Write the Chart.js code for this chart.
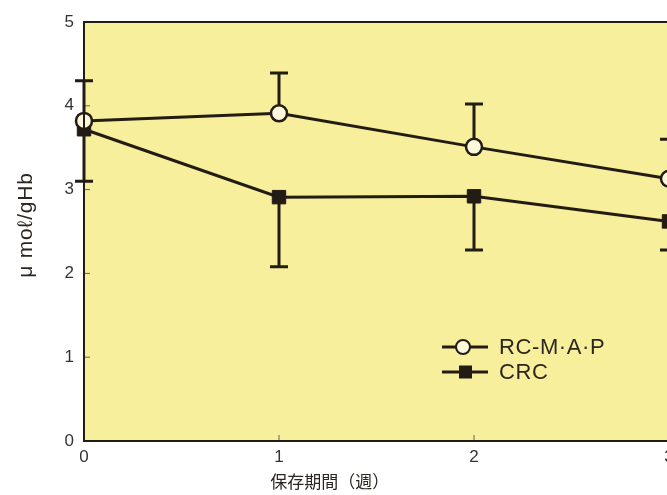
<!DOCTYPE html>
<html>
<head>
<meta charset="utf-8">
<script src="https://cdn.jsdelivr.net/npm/chart.js@4.4.1/dist/chart.umd.min.js"></script>
<style>
  html, body { margin: 0; padding: 0; background: #fff; overflow: hidden; }
  #wrap { width: 667px; height: 495px; overflow: hidden; }
  #wrap div { width: 720px; height: 495px; }
</style>
</head>
<body>
<div id="wrap"><div><canvas id="chart" width="720" height="495"></canvas></div></div>
<script>
// 데이터
const weeks = [0, 1, 2, 3];
const rcValues = [3.82, 3.91, 3.51, 3.13];    // RC-M·A·P
const rcUpper = [4.30, 4.39, 4.02, 3.60];     // 오차막대 위쪽 끝
const crcValues = [3.72, 2.91, 2.92, 2.62];   // CRC
const crcLower = [3.10, 2.08, 2.28, 2.28];    // 오차막대 아래쪽 끝
const yTicks = [0, 1, 2, 3, 4, 5];

const ink = "#231c15";
const font = "'Liberation Sans', Arial, sans-serif";

function toPoints(vals) {
  return weeks.map((w, i) => ({ x: w, y: vals[i] }));
}

const framePlugin = {
  id: "frame",
  beforeDraw(chart) {
    const { ctx, chartArea: a } = chart;
    ctx.save();
    ctx.fillStyle = "#f7ef9b"; // 노란 바탕
    ctx.fillRect(a.left, a.top, a.right - a.left, a.bottom - a.top);
    ctx.restore();
  },
  beforeDatasetsDraw(chart) {
    const { ctx, chartArea: a, scales } = chart;
    const x = scales.x, y = scales.y;
    ctx.save();
    // 안쪽 눈금
    ctx.strokeStyle = "#6b6050";
    ctx.lineWidth = 1;
    yTicks.forEach(v => {
      const py = y.getPixelForValue(v);
      ctx.beginPath(); ctx.moveTo(a.left, py); ctx.lineTo(a.left + 6, py); ctx.stroke();
    });
    weeks.forEach(v => {
      const px = x.getPixelForValue(v);
      ctx.beginPath(); ctx.moveTo(px, a.bottom); ctx.lineTo(px, a.bottom - 6); ctx.stroke();
    });
    // 오차막대
    ctx.strokeStyle = ink;
    ctx.lineWidth = 3;
    const bar = (xv, y0, y1) => {
      const px = x.getPixelForValue(xv);
      const p0 = y.getPixelForValue(y0), p1 = y.getPixelForValue(y1);
      ctx.beginPath();
      ctx.moveTo(px, p0); ctx.lineTo(px, p1);
      ctx.moveTo(px - 9, p1); ctx.lineTo(px + 9, p1);
      ctx.stroke();
    };
    weeks.forEach((w, i) => {
      bar(w, rcValues[i], rcUpper[i]);
      bar(w, crcValues[i], crcLower[i]);
    });
    ctx.restore();
  },
  afterDraw(chart) {
    const { ctx, chartArea: a, scales } = chart;
    ctx.save();
    // 테두리
    ctx.strokeStyle = ink;
    ctx.lineWidth = 2;
    ctx.beginPath();
    ctx.moveTo(a.right + 5, a.top); ctx.lineTo(a.left, a.top);
    ctx.lineTo(a.left, a.bottom); ctx.lineTo(a.right + 5, a.bottom);
    ctx.stroke();

    // 축 제목
    ctx.fillStyle = "#2b2620";
    ctx.font = "17px 'Noto Sans CJK JP', sans-serif";
    ctx.textAlign = "center";
    ctx.textBaseline = "middle";
    ctx.fillText("保存期間（週）", scales.x.getPixelForValue(1.26), 482);
    ctx.save();
    ctx.translate(26, 225);
    ctx.rotate(-Math.PI / 2);
    ctx.font = "21px " + font;
    ctx.letterSpacing = "0.8px";
    ctx.fillText("μ moℓ/gHb", 0, 0);
    ctx.restore();

    // 범례
    const lx = 442, rows = [{ label: "RC-M·A·P", y: 347, open: true }, { label: "CRC", y: 372, open: false }];
    rows.forEach(r => {
      ctx.strokeStyle = ink;
      ctx.lineWidth = 3;
      ctx.beginPath(); ctx.moveTo(lx, r.y); ctx.lineTo(lx + 46, r.y); ctx.stroke();
      if (r.open) {
        ctx.fillStyle = "#fdf8dc";
        ctx.lineWidth = 2;
        ctx.beginPath(); ctx.arc(lx + 21, r.y, 7, 0, Math.PI * 2); ctx.fill(); ctx.stroke();
      } else {
        ctx.fillStyle = ink;
        ctx.fillRect(lx + 17, r.y - 6.5, 13, 13);
      }
      ctx.fillStyle = "#2b2620";
      ctx.font = "22px " + font;
      ctx.letterSpacing = "0.6px";
      ctx.textAlign = "left";
      ctx.fillText(r.label, lx + 57, r.y + 1);
    });
    ctx.restore();
  }
};

new Chart(document.getElementById("chart"), {
  type: "line",
  data: {
    datasets: [
      {
        label: "RC-M·A·P",
        data: toPoints(rcValues),
        borderColor: ink,
        borderWidth: 3,
        clip: false,
        pointStyle: "circle",
        pointRadius: 8,
        pointBorderWidth: 2.5,
        pointBorderColor: ink,
        pointBackgroundColor: "#fdf8dc",
        fill: false
      },
      {
        label: "CRC",
        data: toPoints(crcValues),
        borderColor: ink,
        borderWidth: 3,
        clip: false,
        pointStyle: "rect",
        pointRadius: 9.5,
        pointBorderWidth: 1,
        pointBorderColor: ink,
        pointBackgroundColor: ink,
        fill: false
      }
    ]
  },
  options: {
    responsive: false,
    animation: false,
    layout: { padding: { top: 22, right: 51, left: 0, bottom: 0 } },
    plugins: { legend: { display: false }, tooltip: { enabled: false } },
    scales: {
      x: {
        type: "linear",
        min: 0, max: 3,
        afterFit(s) { s.height = 54; },
        afterBuildTicks(s) { s.ticks = weeks.map(v => ({ value: v })); },
        grid: { display: false, drawTicks: false },
        border: { display: false },
        ticks: { color: "#333", font: { size: 17, family: font }, padding: 6 }
      },
      y: {
        min: 0, max: 5,
        afterFit(s) { s.width = 84; },
        afterBuildTicks(s) { s.ticks = yTicks.map(v => ({ value: v })); },
        grid: { display: false, drawTicks: false },
        border: { display: false },
        ticks: { color: "#333", font: { size: 17, family: font }, padding: 10 }
      }
    }
  },
  plugins: [framePlugin]
});
</script>
</body>
</html>
